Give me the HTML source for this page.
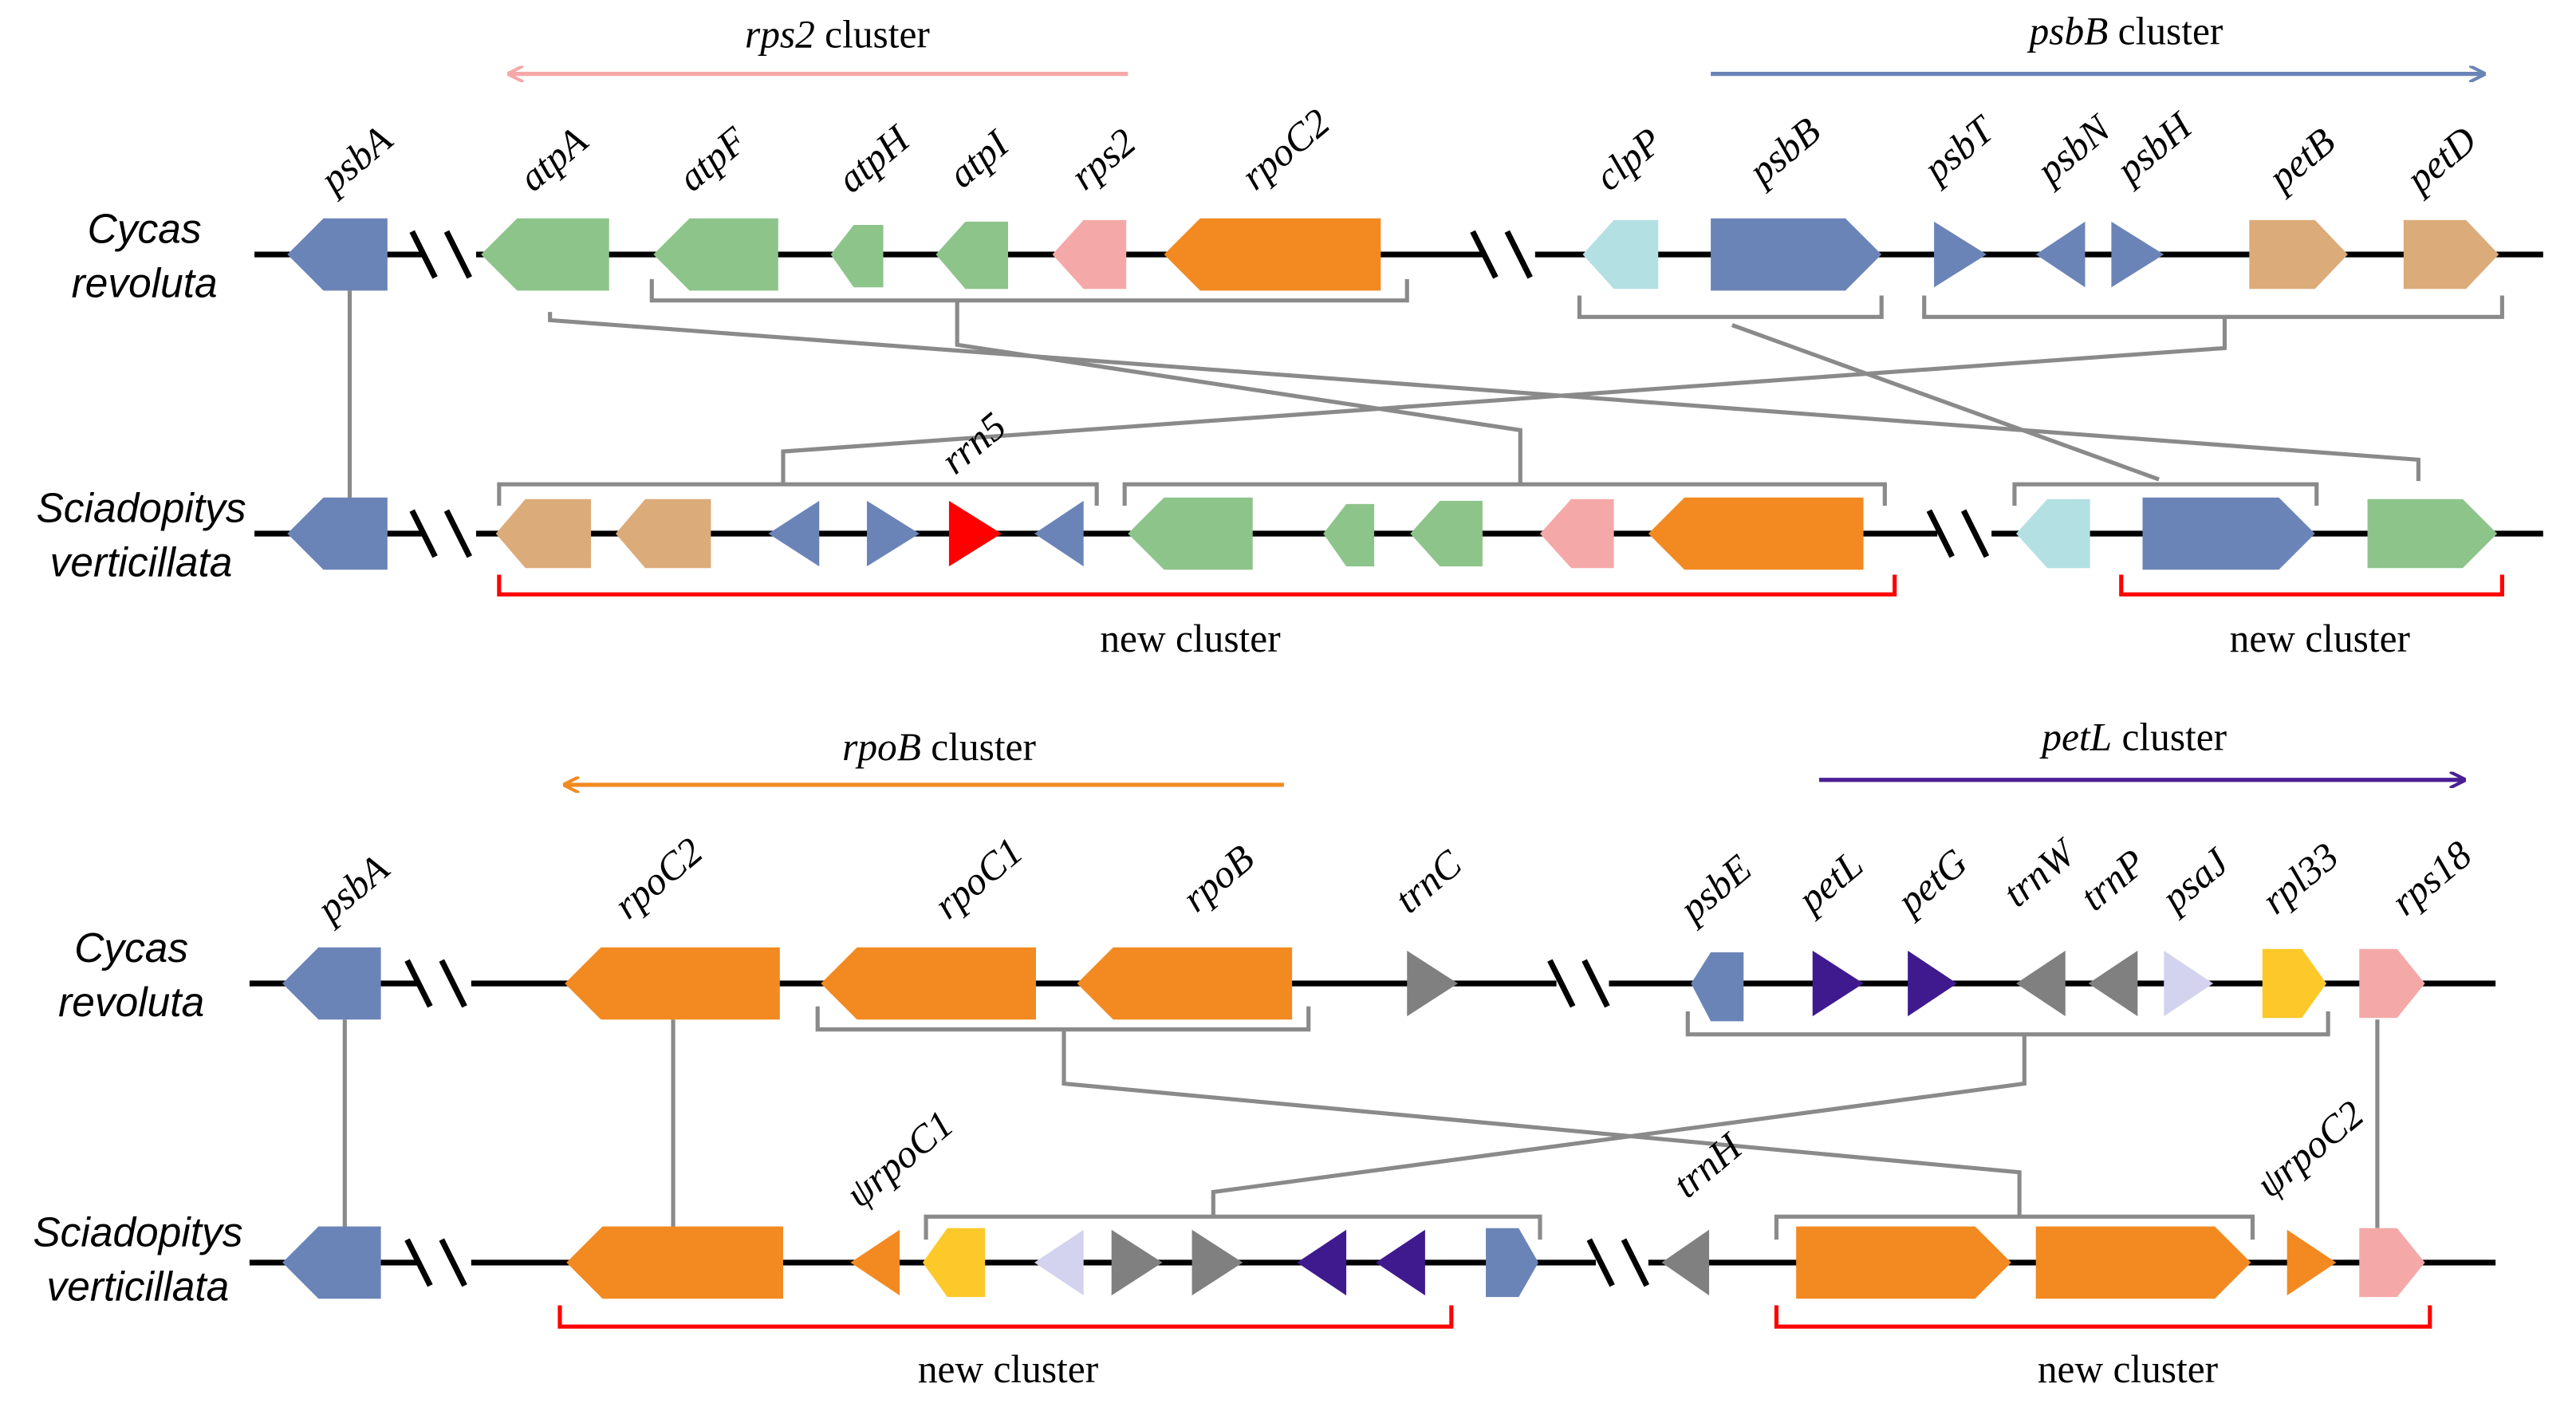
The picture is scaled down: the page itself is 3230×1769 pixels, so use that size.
<!DOCTYPE html>
<html><head><meta charset="utf-8"><style>
html,body{margin:0;padding:0;background:#fff}
svg{display:block}
.g{font-family:"Liberation Serif",serif;font-style:italic;font-size:24px;fill:#000}
.sp{font-family:"Liberation Sans",sans-serif;font-style:italic;font-size:25px;fill:#000}
.t{font-family:"Liberation Serif",serif;font-size:24px;fill:#000}
.ln{stroke:#000;stroke-width:3.5;fill:none}
.br{stroke:#8a8a8a;stroke-width:2.5;fill:none}
.rb{stroke:#ff0000;stroke-width:2.5;fill:none}
</style></head><body>
<svg width="3230" height="1769" viewBox="0 0 1569 859.4" preserveAspectRatio="none" xmlns="http://www.w3.org/2000/svg">
<defs>
<marker id="mp" markerWidth="10" markerHeight="10" refX="9" refY="5" orient="auto" markerUnits="userSpaceOnUse"><path d="M0,0 L10,5 L0,10" fill="none" stroke="#f4a9a8" stroke-width="2"/></marker>
<marker id="mb" markerWidth="10" markerHeight="10" refX="9" refY="5" orient="auto" markerUnits="userSpaceOnUse"><path d="M0,0 L10,5 L0,10" fill="none" stroke="#6b84b8" stroke-width="2"/></marker>
<marker id="mo" markerWidth="10" markerHeight="10" refX="9" refY="5" orient="auto" markerUnits="userSpaceOnUse"><path d="M0,0 L10,5 L0,10" fill="none" stroke="#f28a21" stroke-width="2"/></marker>
<marker id="mv" markerWidth="10" markerHeight="10" refX="9" refY="5" orient="auto" markerUnits="userSpaceOnUse"><path d="M0,0 L10,5 L0,10" fill="none" stroke="#4a1f94" stroke-width="2"/></marker>
</defs>

<!-- ===== TOP PANEL ===== -->
<text x="510" y="29" class="t" text-anchor="middle"><tspan font-style="italic">rps2</tspan> cluster</text>
<line x1="687" y1="45" x2="310" y2="45" stroke="#f4a9a8" stroke-width="2.5" marker-end="url(#mp)"/>
<text x="1295" y="27" class="t" text-anchor="middle"><tspan font-style="italic">psbB</tspan> cluster</text>
<line x1="1042" y1="45" x2="1513" y2="45" stroke="#6b84b8" stroke-width="2.5" marker-end="url(#mb)"/>

<text x="88" y="148" class="sp" text-anchor="middle">Cycas</text>
<text x="88" y="181" class="sp" text-anchor="middle">revoluta</text>
<text x="86" y="318" class="sp" text-anchor="middle">Sciadopitys</text>
<text x="86" y="351" class="sp" text-anchor="middle">verticillata</text>

<path class="ln" d="M155,155 H258 M290,155 H903 M935,155 H1549"/>
<path class="ln" d="M251,141 L265,169 M272,141 L286,169 M897,141 L911,169 M918,141 L932,169"/>
<path class="ln" d="M155,325 H258 M290,325 H1180 M1213,325 H1549"/>
<path class="ln" d="M251,311 L265,339 M272,311 L286,339 M1175,311 L1189,339 M1196,311 L1210,339"/>

<g class="br">
<path d="M213,177 V305"/>
<path d="M397,170 V183 H857 V170"/>
<path d="M962,180 V193 H1146 V180"/>
<path d="M1172,180 V193 H1524 V180"/>
<path d="M335,190 V195 L1473,280 V293"/>
<path d="M583,183 V210 L926,262 V295"/>
<path d="M1055,198 L1315,292"/>
<path d="M1355,193 V212 L477,275 V295"/>
<path d="M304,308 V295 H668 V308"/>
<path d="M685,308 V295 H1148 V308"/>
<path d="M1227,308 V295 H1411 V308"/>
</g>
<g class="rb">
<path d="M304,350 V362 H1154 V350"/>
<path d="M1292,350 V362 H1524 V350"/>
</g>
<text x="725" y="397" class="t" text-anchor="middle">new cluster</text>
<text x="1413" y="397" class="t" text-anchor="middle">new cluster</text>

<polygon fill="#6b84b8" points="175,155 197,133 236,133 236,177 197,177"/>
<polygon fill="#8dc48a" points="293,155 315,133 371,133 371,177 315,177"/>
<polygon fill="#8dc48a" points="398,155 420,133 474,133 474,177 420,177"/>
<polygon fill="#8dc48a" points="506,155 520,137 538,137 538,175 520,175"/>
<polygon fill="#8dc48a" points="570,155 588,135 614,135 614,176 588,176"/>
<polygon fill="#f4a9a8" points="641,155 660,134 686,134 686,176 660,176"/>
<polygon fill="#f28a21" points="709,155 731,133 841,133 841,177 731,177"/>
<polygon fill="#b3e0e3" points="964,155 983,134 1010,134 1010,176 983,176"/>
<polygon fill="#6b84b8" points="1042,133 1124,133 1146,155 1124,177 1042,177"/>
<polygon fill="#6b84b8" points="1178,135 1210,155 1178,175"/>
<polygon fill="#6b84b8" points="1270,135 1240,155 1270,175"/>
<polygon fill="#6b84b8" points="1286,135 1318,155 1286,175"/>
<polygon fill="#dcab7a" points="1370,134 1410,134 1430,155 1410,176 1370,176"/>
<polygon fill="#dcab7a" points="1464,134 1502,134 1522,155 1502,176 1464,176"/>

<g class="g" text-anchor="middle">
<text transform="translate(222,103) rotate(-40)">psbA</text>
<text transform="translate(342,103) rotate(-40)">atpA</text>
<text transform="translate(439,103) rotate(-40)">atpF</text>
<text transform="translate(537,103) rotate(-40)">atpH</text>
<text transform="translate(601,103) rotate(-40)">atpI</text>
<text transform="translate(677,103) rotate(-40)">rps2</text>
<text transform="translate(788,97) rotate(-40)">rpoC2</text>
<text transform="translate(997,103) rotate(-40)">clpP</text>
<text transform="translate(1092,98) rotate(-40)">psbB</text>
<text transform="translate(1198,97) rotate(-40)">psbT</text>
<text transform="translate(1268,97) rotate(-40)">psbN</text>
<text transform="translate(1317,96) rotate(-40)">psbH</text>
<text transform="translate(1407,103) rotate(-40)">petB</text>
<text transform="translate(1492,103) rotate(-40)">petD</text>
<text transform="translate(598,276) rotate(-40)">rrn5</text>
</g>

<polygon fill="#6b84b8" points="175,325 197,303 236,303 236,347 197,347"/>
<polygon fill="#dcab7a" points="302,325 320,304 360,304 360,346 320,346"/>
<polygon fill="#dcab7a" points="375,325 393,304 433,304 433,346 393,346"/>
<polygon fill="#6b84b8" points="499,305 468,325 499,345"/>
<polygon fill="#6b84b8" points="528,305 560,325 528,345"/>
<polygon fill="#ff0000" points="578,305 610,325 578,345"/>
<polygon fill="#6b84b8" points="660,305 630,325 660,345"/>
<polygon fill="#8dc48a" points="687,325 709,303 763,303 763,347 709,347"/>
<polygon fill="#8dc48a" points="806,325 820,307 837,307 837,345 820,345"/>
<polygon fill="#8dc48a" points="859,325 877,305 903,305 903,345 877,345"/>
<polygon fill="#f4a9a8" points="938,325 957,304 983,304 983,346 957,346"/>
<polygon fill="#f28a21" points="1004,325 1026,303 1135,303 1135,347 1026,347"/>
<polygon fill="#b3e0e3" points="1228,325 1247,304 1273,304 1273,346 1247,346"/>
<polygon fill="#6b84b8" points="1305,303 1388,303 1410,325 1388,347 1305,347"/>
<polygon fill="#8dc48a" points="1442,304 1500,304 1521,325 1500,346 1442,346"/>

<!-- ===== BOTTOM PANEL ===== -->
<text x="572" y="463" class="t" text-anchor="middle"><tspan font-style="italic">rpoB</tspan> cluster</text>
<line x1="782" y1="478" x2="344" y2="478" stroke="#f28a21" stroke-width="2.5" marker-end="url(#mo)"/>
<text x="1300" y="457" class="t" text-anchor="middle"><tspan font-style="italic">petL</tspan> cluster</text>
<line x1="1108" y1="475" x2="1501" y2="475" stroke="#4a1f94" stroke-width="2.5" marker-end="url(#mv)"/>

<text x="80" y="586" class="sp" text-anchor="middle">Cycas</text>
<text x="80" y="619" class="sp" text-anchor="middle">revoluta</text>
<text x="84" y="759" class="sp" text-anchor="middle">Sciadopitys</text>
<text x="84" y="792" class="sp" text-anchor="middle">verticillata</text>

<path class="ln" d="M152,599 H255 M287,599 H948 M980,599 H1520"/>
<path class="ln" d="M248,585 L262,613 M269,585 L283,613 M944,585 L958,613 M965,585 L979,613"/>
<path class="ln" d="M152,769 H255 M287,769 H972 M1004,769 H1520"/>
<path class="ln" d="M248,755 L262,783 M269,755 L283,783 M968,755 L982,783 M989,755 L1003,783"/>

<g class="br">
<path d="M210,621 V748"/>
<path d="M410,621 V748"/>
<path d="M1448,621 V748"/>
<path d="M498,613 V627 H797 V613"/>
<path d="M1028,616 V630 H1418 V616"/>
<path d="M648,627 V660 L1230,714 V740"/>
<path d="M1233,630 V660 L739,726 V740"/>
<path d="M564,755 V741 H938 V755"/>
<path d="M1082,755 V741 H1372 V755"/>
</g>
<g class="rb">
<path d="M341,795 V808 H884 V795"/>
<path d="M1082,795 V808 H1480 V795"/>
</g>
<text x="614" y="842" class="t" text-anchor="middle">new cluster</text>
<text x="1296" y="842" class="t" text-anchor="middle">new cluster</text>

<polygon fill="#6b84b8" points="172,599 194,577 232,577 232,621 194,621"/>
<polygon fill="#f28a21" points="344,599 366,577 475,577 475,621 366,621"/>
<polygon fill="#f28a21" points="500,599 522,577 631,577 631,621 522,621"/>
<polygon fill="#f28a21" points="656,599 678,577 787,577 787,621 678,621"/>
<polygon fill="#808080" points="857,579 888,599 857,619"/>
<polygon fill="#6b84b8" points="1030,599 1042,580 1062,580 1062,622 1042,622"/>
<polygon fill="#3f1a8f" points="1104,579 1135,599 1104,619"/>
<polygon fill="#3f1a8f" points="1162,579 1192,599 1162,619"/>
<polygon fill="#808080" points="1258,579 1228,599 1258,619"/>
<polygon fill="#808080" points="1302,579 1272,599 1302,619"/>
<polygon fill="#d3d3ef" points="1318,579 1348,599 1318,619"/>
<polygon fill="#fdc82a" points="1378,578 1402,578 1417,599 1402,620 1378,620"/>
<polygon fill="#f4a9a8" points="1437,578 1460,578 1477,599 1460,620 1437,620"/>

<g class="g" text-anchor="middle">
<text transform="translate(220,547) rotate(-40)">psbA</text>
<text transform="translate(406,541) rotate(-40)">rpoC2</text>
<text transform="translate(601,541) rotate(-40)">rpoC1</text>
<text transform="translate(747,541) rotate(-40)">rpoB</text>
<text transform="translate(875,543) rotate(-40)">trnC</text>
<text transform="translate(1050,547) rotate(-40)">psbE</text>
<text transform="translate(1120,543) rotate(-40)">petL</text>
<text transform="translate(1182,543) rotate(-40)">petG</text>
<text transform="translate(1247,538) rotate(-40)">trnW</text>
<text transform="translate(1292,542) rotate(-40)">trnP</text>
<text transform="translate(1342,542) rotate(-40)">psaJ</text>
<text transform="translate(1406,541) rotate(-40)">rpl33</text>
<text transform="translate(1486,541) rotate(-40)">rps18</text>
<text transform="translate(553,712) rotate(-40)">ψrpoC1</text>
<text transform="translate(1045,716) rotate(-40)">trnH</text>
<text transform="translate(1412,706) rotate(-40)">ψrpoC2</text>
</g>

<polygon fill="#6b84b8" points="172,769 194,747 232,747 232,791 194,791"/>
<polygon fill="#f28a21" points="345,769 367,747 477,747 477,791 367,791"/>
<polygon fill="#f28a21" points="548,749 518,769 548,789"/>
<polygon fill="#fdc82a" points="562,769 577,748 600,748 600,790 577,790"/>
<polygon fill="#d3d3ef" points="660,749 630,769 660,789"/>
<polygon fill="#808080" points="677,749 708,769 677,789"/>
<polygon fill="#808080" points="726,749 757,769 726,789"/>
<polygon fill="#3f1a8f" points="820,749 790,769 820,789"/>
<polygon fill="#3f1a8f" points="868,749 838,769 868,789"/>
<polygon fill="#6b84b8" points="905,748 925,748 937,769 925,790 905,790"/>
<polygon fill="#808080" points="1041,749 1012,769 1041,789"/>
<polygon fill="#f28a21" points="1094,747 1203,747 1225,769 1203,791 1094,791"/>
<polygon fill="#f28a21" points="1240,747 1349,747 1371,769 1349,791 1240,791"/>
<polygon fill="#f28a21" points="1393,749 1423,769 1393,789"/>
<polygon fill="#f4a9a8" points="1437,748 1460,748 1477,769 1460,790 1437,790"/>
</svg>
</body></html>
